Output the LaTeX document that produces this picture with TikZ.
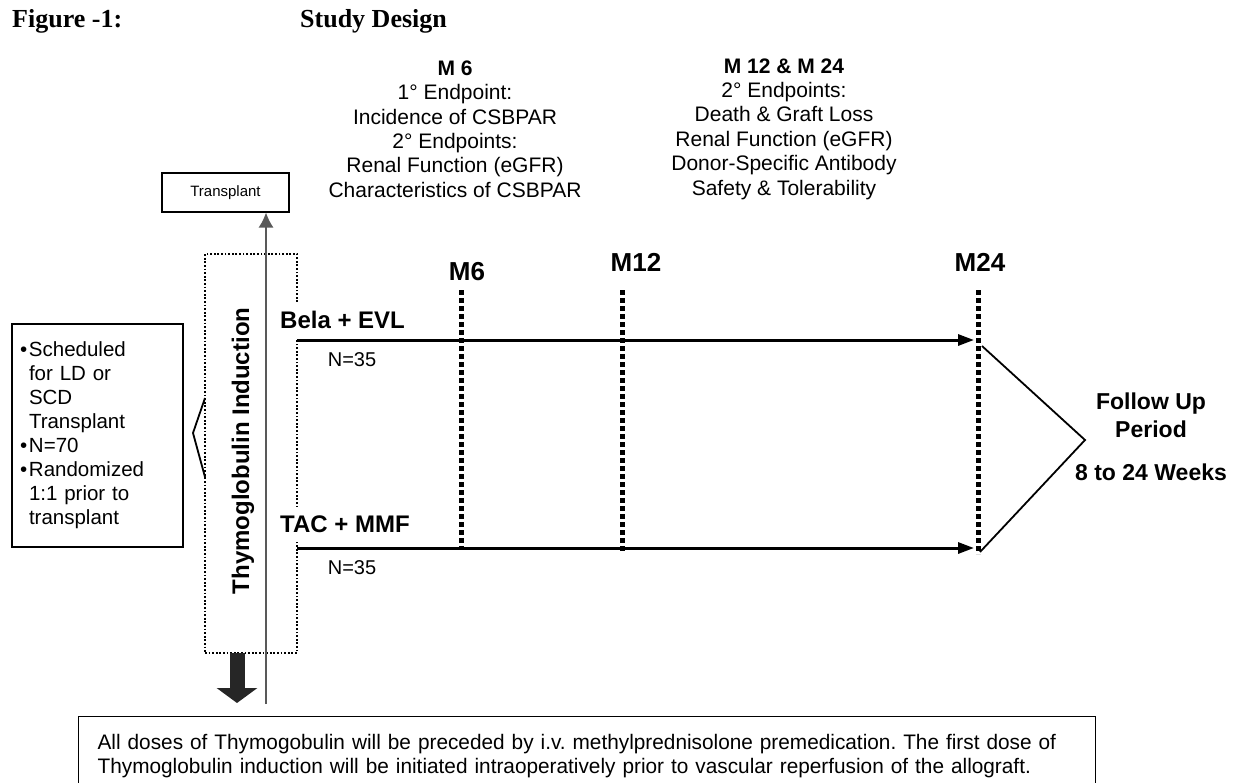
\documentclass[tikz,border=0pt]{standalone}
\usepackage{fontspec}
\setmainfont{Liberation Sans}
\newfontfamily\titlefont{Liberation Serif}
\newfontfamily\narrowfont[FakeStretch=0.99]{Liberation Sans}
\usepackage{tikz}
\usetikzlibrary{arrows.meta,positioning,calc}
\frenchspacing
\tikzset{
  endtext/.style={align=center, inner sep=0pt, font=\fontsize{21}{24.4}\selectfont},
  titletext/.style={anchor=base west, inner sep=0pt, font=\titlefont\bfseries\fontsize{26}{30}\selectfont},
  armlabel/.style={anchor=west, fill=white, inner xsep=1pt, inner ysep=9pt, font=\bfseries\fontsize{24}{28}\selectfont},
  nlabel/.style={inner sep=0pt, font=\fontsize{20}{24}\selectfont},
  mlabel/.style={inner sep=0pt, font=\bfseries\fontsize{26}{30}\selectfont},
  milestone/.style={line width=5pt, dash pattern=on 5pt off 3pt},
  arm/.style={line width=3pt, -{Triangle[length=16pt,width=11pt]}},
  thinline/.style={line width=1.8pt},
  box/.style={draw, line width=1.2pt},
  dotbox/.style={draw, line width=2pt, dash pattern=on 1.8pt off 1.8pt, minimum width=92pt, minimum height=399pt},
  tparrow/.style={line width=1.3pt, gray!70!black, -{Latex[length=15pt,width=15pt]}},
  bigarrow/.style={line width=15pt, black!85, -{Triangle[length=15pt,width=40pt]}}
}
\begin{document}
\begin{tikzpicture}[x=1pt, y=-1pt]
  \useasboundingbox (0,0) rectangle (1238,782);
  \clip (0,0) rectangle (1238,782);
  \node[titletext] (fig) at (12,27) {Figure -1:};
  \node[titletext] (title) at (300,27) {Study Design};
  \node[endtext] (ep6) at (455,129) {\textbf{M 6}\\1° Endpoint:\\Incidence of CSBPAR\\2° Endpoints:\\Renal Function (eGFR)\\Characteristics of CSBPAR};
  \node[endtext] (ep24) at (784,129) {\textbf{M 12 \& M 24}\\2° Endpoints:\\Death \& Graft Loss\\Renal Function (eGFR)\\Donor-Specific Antibody\\Safety \& Tolerability};
  \node[box, minimum width=127pt, minimum height=39pt, inner sep=0pt, font=\fontsize{15}{18}\selectfont] (tp) at (225.5,192.5) {Transplant};
  \node[dotbox] (induct) at (251,453.5) {};
  \node[rotate=90, inner sep=0pt, font=\bfseries\fontsize{24}{28}\selectfont] (inductlabel) at (243,451) {Thymoglobulin Induction};
  \coordinate (tpBase) at (266,704);
  \draw[tparrow] (tpBase) -- (tpBase |- tp.south);
  \coordinate (bigTop) at (237,653);
  \draw[bigarrow] (bigTop) -- ++(0,50);
  \node[box, minimum width=171pt, minimum height=223pt, text width=155pt, inner xsep=8pt, align=left, font=\fontsize{20.5}{24}\selectfont] (pop) at (97.5,435.5)
    {\makebox[9pt][l]{•}Scheduled\\\hspace*{9pt}for LD or\\\hspace*{9pt}SCD\\\hspace*{9pt}Transplant\\\makebox[9pt][l]{•}N=70\\\makebox[9pt][l]{•}Randomized\\\hspace*{9pt}1:1 prior to\\\hspace*{9pt}transplant};
  \coordinate (brTip) at (193,433);
  \draw[thinline] ($(brTip)+(12,-35)$) -- (brTip) -- ($(brTip)+(12,44)$);
  \coordinate (m6top) at (461,290);
  \coordinate (m12top) at (622,290);
  \coordinate (m24top) at (978,290);
  \draw[milestone] (m6top) -- ++(0,260);
  \draw[milestone] (m12top) -- ++(0,261);
  \draw[milestone] (m24top) -- ++(0,264);
  \node[mlabel] (m6) at (467,272) {M6};
  \node[mlabel] (m12) at (636,262) {M12};
  \node[mlabel] (m24) at (980,262) {M24};
  \coordinate (belaS) at (297,340);
  \coordinate (tacS) at (297,548);
  \draw[arm] (belaS) -- ($(belaS -| m24top)+(-4,0)$);
  \draw[arm] (tacS) -- ($(tacS -| m24top)+(-4,0)$);
  \node[armlabel] (bela) at (279,320) {Bela + EVL};
  \node[armlabel] (tac) at (279,524) {TAC + MMF};
  \node[nlabel] (nbela) at (352,360) {N=35};
  \node[nlabel] (ntac) at (352,568) {N=35};
  \coordinate (fuTip) at (1085,440);
  \draw[thinline] (982,346) -- (fuTip) -- (980,552);
  \node[align=center, inner sep=0pt, font=\bfseries\fontsize{23}{28}\selectfont] (fu) at (1151,437) {Follow Up\\Period\\[15pt]8 to 24 Weeks};
  \node[box, anchor=north west, minimum width=1017pt, minimum height=78pt, text width=979pt, inner xsep=19pt, align=left, font=\narrowfont\fontsize{21}{24}\selectfont] (note) at (78,716)
    {All doses of Thymogobulin will be preceded by i.v. methylprednisolone premedication. The first dose of\\Thymoglobulin induction will be initiated intraoperatively prior to vascular reperfusion of the allograft.};
\end{tikzpicture}
\end{document}
